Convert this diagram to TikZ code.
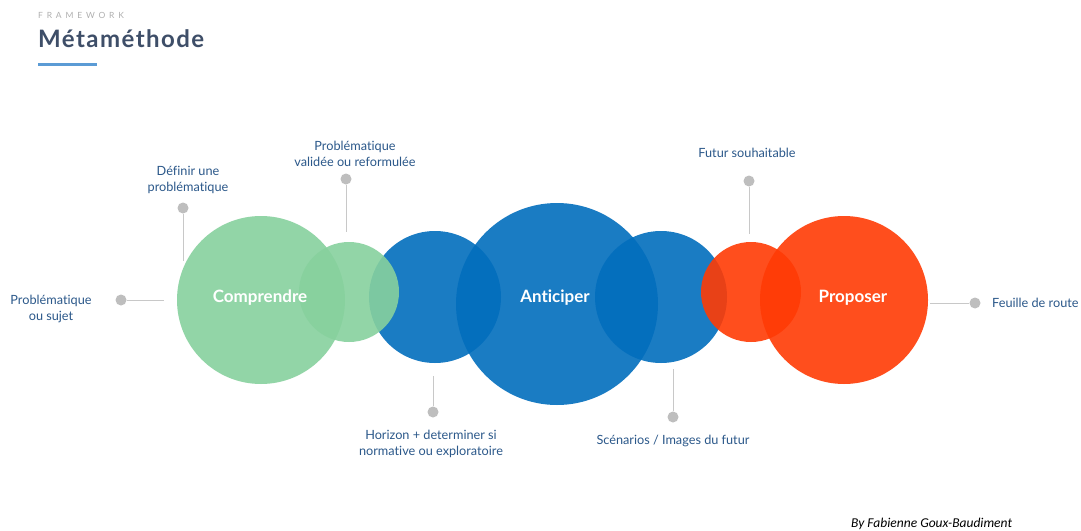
\documentclass[tikz,border=0pt]{standalone}
\usepackage{fontspec}
\setmainfont{Lato}[Ligatures=NoCommon]
\newfontfamily\kickerfont{Lato}[LetterSpace=45]
\newfontfamily\titlefont{Lato}[LetterSpace=6]
\newfontfamily\bylinefont{Carlito}
\definecolor{bluefill}{RGB}{2,110,189}
\definecolor{greenfill}{RGB}{135,209,158}
\definecolor{redfill}{RGB}{255,59,5}
\definecolor{notetext}{RGB}{43,88,138}
\definecolor{leadergray}{RGB}{200,200,200}
\definecolor{dotgray}{RGB}{190,190,190}
\definecolor{titleslate}{RGB}{62,78,104}
\definecolor{kickergray}{RGB}{175,175,175}
\definecolor{rulebar}{RGB}{91,155,213}
\begin{document}
\begin{tikzpicture}[x=1pt,y=-1pt,
  disc/.style={circle, inner sep=0pt, draw=none, fill opacity=0.9, minimum size=#1},
  stage/.style={text=white, inner sep=0pt, font=\fontsize{17}{20}\selectfont\bfseries},
  note/.style={text=notetext, align=center, inner sep=0pt, font=\fontsize{12.7}{16}\selectfont},
  leader/.style={draw=leadergray, line width=1pt},
  dot/.style={circle, fill=dotgray, inner sep=0pt, minimum size=11pt}]

\useasboundingbox[fill=white] (0,0) rectangle (1081,530);

% header
\node[anchor=base west, inner sep=0pt, text=kickergray, font=\kickerfont\fontsize{8.5}{10}\selectfont] (kicker) at (38,18.5) {FRAMEWORK};
\node[anchor=base west, inner sep=0pt, text=titleslate, font=\titlefont\bfseries\fontsize{24}{28}\selectfont] (title) at (38,47.5) {Métaméthode};
\fill[rulebar] (38,62.5) rectangle (97,65.5);

% blue circles first, then green and red on top
\node[disc=132pt, fill=bluefill] (bleft) at (435,297) {};
\node[disc=202pt, fill=bluefill] (antic) at (557,304) {};
\node[disc=132pt, fill=bluefill] (bright) at (661,297) {};
\node[disc=168pt, fill=greenfill] (compr) at (261,300) {};
\node[disc=100pt, fill=greenfill] (gsmall) at (349,292) {};
\node[disc=100pt, fill=redfill] (rsmall) at (751,292) {};
\node[disc=168pt, fill=redfill] (prop) at (844,300) {};

% stage names
\node[stage] (tcompr) at (260,298) {Comprendre};
\node[stage] (tantic) at (555,298) {Anticiper};
\node[stage] (tprop) at (853,298) {Proposer};

% callouts
\node[note] (n1) at (51,309) {Problématique\\ou sujet};
\node[dot] (d1) at (121,300) {};
\coordinate (e1) at (164,300);
\draw[leader] (d1) -- (e1);

\node[note] (n2) at (188,180) {Définir une\\problématique};
\node[dot] (d2) at (183,208) {};
\coordinate (e2) at (183,261);
\draw[leader] (d2) -- (e2);

\node[note] (n3) at (355,154) {Problématique\\validée ou reformulée};
\node[dot] (d3) at (346,179) {};
\coordinate (e3) at (346,232);
\draw[leader] (d3) -- (e3);

\node[note] (n4) at (431,444) {Horizon + determiner si\\normative ou exploratoire};
\node[dot] (d4) at (433,412) {};
\coordinate (e4) at (433,376);
\draw[leader] (d4) -- (e4);

\node[note] (n5) at (673,441) {Scénarios / Images du futur};
\node[dot] (d5) at (673,417) {};
\coordinate (e5) at (673,369);
\draw[leader] (d5) -- (e5);

\node[note] (n6) at (747,153) {Futur souhaitable};
\node[dot] (d6) at (749,181) {};
\coordinate (e6) at (749,234);
\draw[leader] (d6) -- (e6);

\node[note, anchor=west] (n7) at (992,303) {Feuille de route};
\node[dot] (d7) at (975,303) {};
\coordinate (e7) at (930,303);
\draw[leader] (d7) -- (e7);

% credit line
\node[anchor=base west, inner sep=0pt, font=\bylinefont\itshape\fontsize{13.5}{15}\selectfont] (credit) at (851,527.5) {By Fabienne Goux-Baudiment};
\end{tikzpicture}
\end{document}
